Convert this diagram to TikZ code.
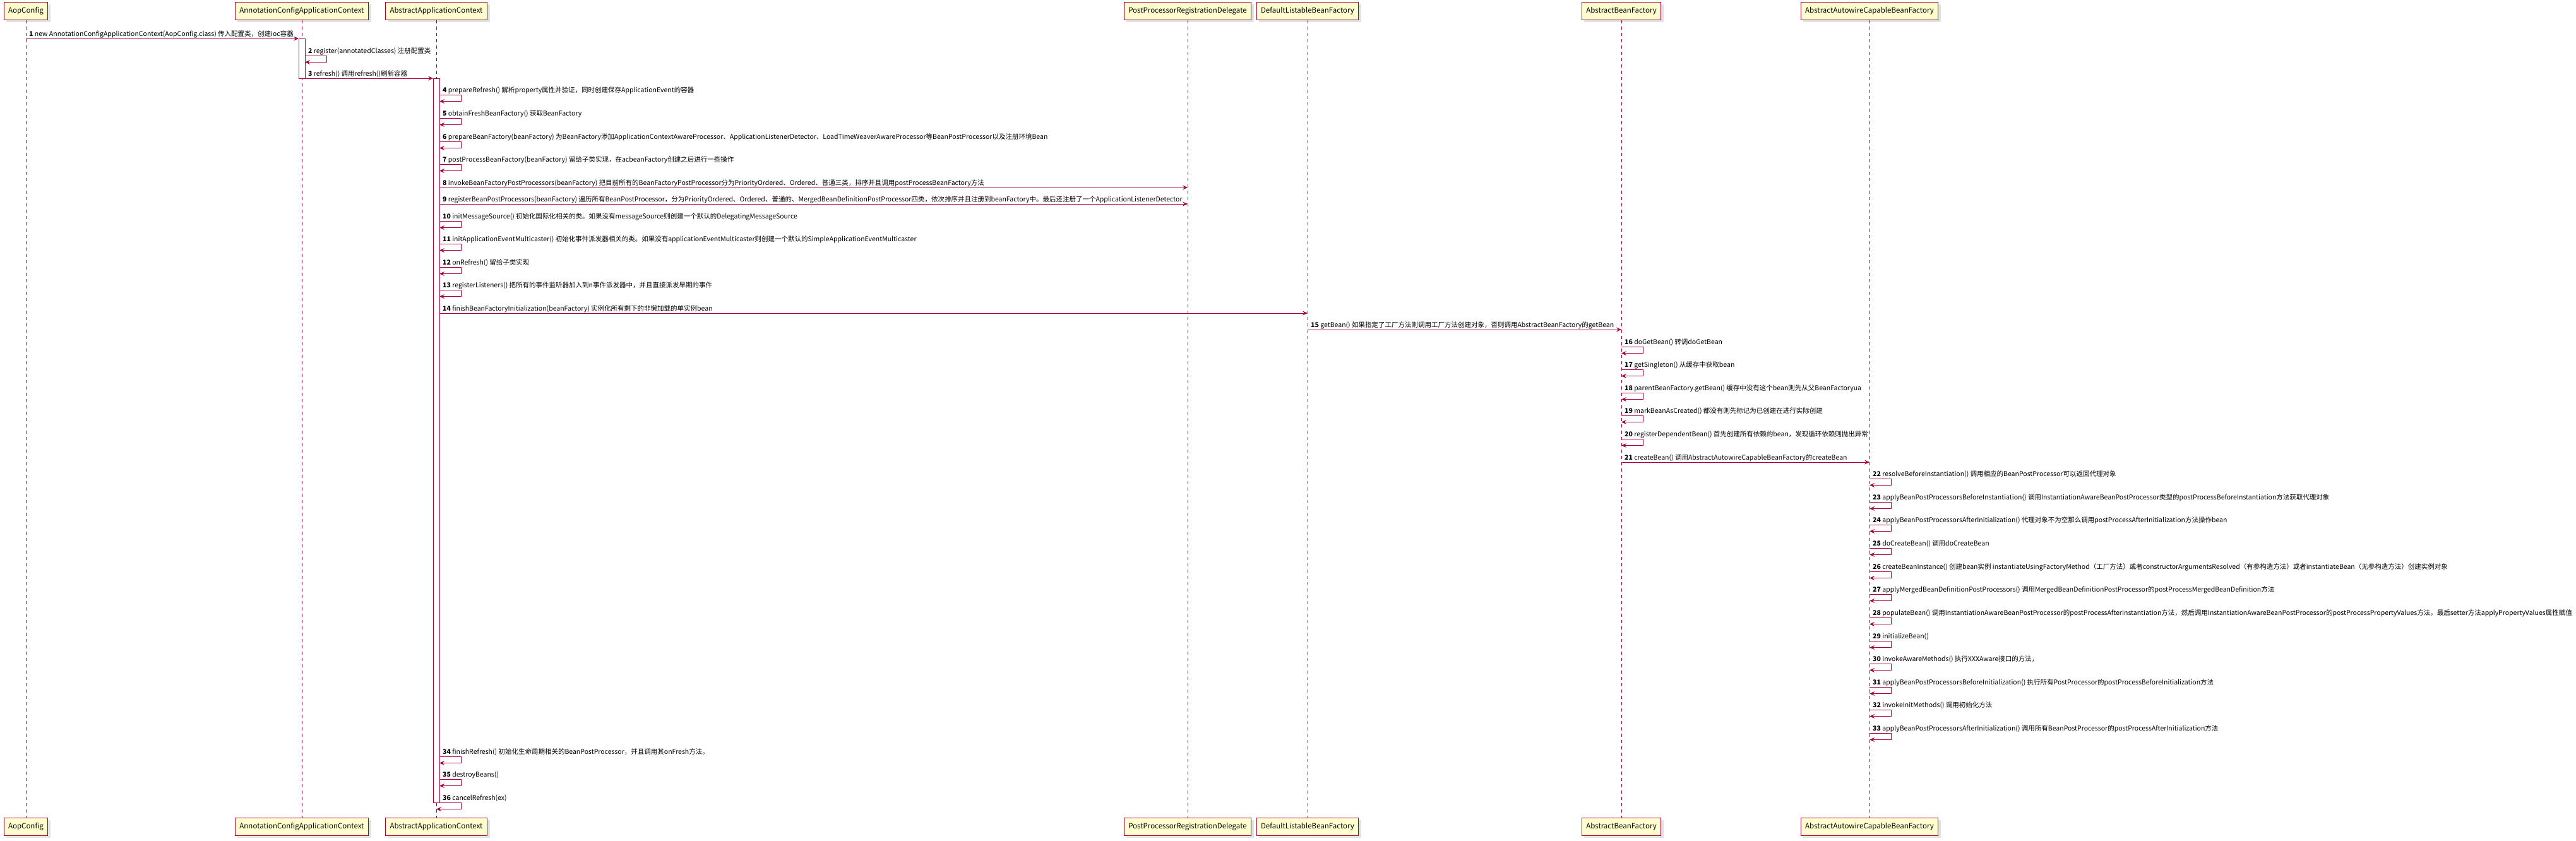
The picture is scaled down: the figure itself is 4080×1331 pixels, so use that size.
\documentclass[tikz,border=0pt]{standalone}
\usepackage{fontspec}
\setmainfont{Noto Sans CJK SC}
\usetikzlibrary{arrows.meta,shadows}
\definecolor{seqline}{HTML}{A80036}
\definecolor{seqbox}{HTML}{FEFECE}
\tikzset{
  part/.style={draw=seqline, line width=1pt, fill=seqbox, minimum height=28pt,
    inner xsep=7pt, inner ysep=0pt, font=\fontsize{11.5}{13}\selectfont,
    drop shadow={shadow xshift=4pt, shadow yshift=-4pt, fill=black!22}},
  life/.style={draw=seqline, dash pattern=on 5pt off 5pt, line width=0.8pt},
  actbar/.style={draw=seqline, fill=white, line width=1pt},
  msgArrow/.style={draw=seqline, line width=1pt, -{Stealth[length=8pt,width=7pt,inset=3pt]}},
  msgText/.style={anchor=base west, inner sep=0pt, font=\fontsize{10.5}{12}\selectfont}
}
% message between two lifelines: #1=number, #2=from x, #3=to x, #4=y, #5=text
\newcommand{\Msg}[5]{%
  \coordinate (m#1a) at (#2,#4);
  \coordinate (m#1b) at (#3,#4);
  \draw[msgArrow] (m#1a) -- (m#1b);
  \node[msgText] (t#1) at (#2+5,#4-3.5) {\textbf{#1} #5};
}
% self message: #1=number, #2=out x, #3=back x, #4=y, #5=text
\newcommand{\SelfMsg}[5]{%
  \coordinate (m#1a) at (#2,#4);
  \coordinate (m#1b) at (#3,#4+10.5);
  \draw[msgArrow] (m#1a) -- ++(34,0) |- (m#1b);
  \node[msgText] (t#1) at (#2+5,#4-3.5) {\textbf{#1} #5};
}

\begin{document}
\begin{tikzpicture}[x=1pt, y=-1pt]
  \fill[white] (0,0) rectangle (4080,1331);
  \useasboundingbox (0,0) rectangle (4080,1331);
  % participants, top and bottom
  \foreach \nm/\x/\lbl in {aop/41/AopConfig, acac/478/AnnotationConfigApplicationContext,
      aac/691/AbstractApplicationContext, pprd/1881/PostProcessorRegistrationDelegate,
      dlbf/2071/DefaultListableBeanFactory, abf/2568/AbstractBeanFactory,
      aacbf/2961/AbstractAutowireCapableBeanFactory}{
    \node[part] (\nm T) at (\x,17) {\lbl};
    \node[part] (\nm B) at (\x,1309) {\lbl};
    \draw[life] (\nm T.south) -- (\nm B.north);
  }
  % activations
  \draw[actbar] (473,61) rectangle (483,124);
  \draw[actbar] (686,124) rectangle (696,1271);

  \Msg{1}{41}{473}{61}{new AnnotationConfigApplicationContext(AopConfig.class) 传入配置类，创建ioc容器}
  \SelfMsg{2}{483}{483}{88}{register(annotatedClasses) 注册配置类}
  \Msg{3}{483}{686}{124}{refresh() 调用refresh()刷新容器}
  \SelfMsg{4}{696}{696}{150}{prepareRefresh() 解析property属性并验证，同时创建保存ApplicationEvent的容器}
  \SelfMsg{5}{696}{696}{187}{obtainFreshBeanFactory() 获取BeanFactory}
  \SelfMsg{6}{696}{696}{224}{prepareBeanFactory(beanFactory) 为BeanFactory添加ApplicationContextAwareProcessor、ApplicationListenerDetector、LoadTimeWeaverAwareProcessor等BeanPostProcessor以及注册环境Bean}
  \SelfMsg{7}{696}{696}{260}{postProcessBeanFactory(beanFactory) 留给子类实现，在acbeanFactory创建之后进行一些操作}
  \Msg{8}{696}{1881}{297}{invokeBeanFactoryPostProcessors(beanFactory) 把目前所有的BeanFactoryPostProcessor分为PriorityOrdered、Ordered、普通三类，排序并且调用postProcessBeanFactory方法}
  \Msg{9}{696}{1881}{323}{registerBeanPostProcessors(beanFactory) 遍历所有BeanPostProcessor，分为PriorityOrdered、Ordered、普通的、MergedBeanDefinitionPostProcessor四类，依次排序并且注册到beanFactory中。最后还注册了一个ApplicationListenerDetector}
  \SelfMsg{10}{696}{696}{350}{initMessageSource() 初始化国际化相关的类。如果没有messageSource则创建一个默认的DelegatingMessageSource}
  \SelfMsg{11}{696}{696}{386}{initApplicationEventMulticaster() 初始化事件派发器相关的类。如果没有applicationEventMulticaster则创建一个默认的SimpleApplicationEventMulticaster}
  \SelfMsg{12}{696}{696}{423}{onRefresh() 留给子类实现}
  \SelfMsg{13}{696}{696}{459}{registerListeners() 把所有的事件监听器加入到n事件派发器中，并且直接派发早期的事件}
  \Msg{14}{696}{2071}{496}{finishBeanFactoryInitialization(beanFactory) 实例化所有剩下的非懒加载的单实例bean}
  \Msg{15}{2071}{2568}{522}{getBean() 如果指定了工厂方法则调用工厂方法创建对象，否则调用AbstractBeanFactory的getBean}
  \SelfMsg{16}{2568}{2568}{549}{doGetBean() 转调doGetBean}
  \SelfMsg{17}{2568}{2568}{585}{getSingleton() 从缓存中获取bean}
  \SelfMsg{18}{2568}{2568}{622}{parentBeanFactory.getBean() 缓存中没有这个bean则先从父BeanFactoryua}
  \SelfMsg{19}{2568}{2568}{658}{markBeanAsCreated() 都没有则先标记为已创建在进行实际创建}
  \SelfMsg{20}{2568}{2568}{695}{registerDependentBean() 首先创建所有依赖的bean，发现循环依赖则抛出异常}
  \Msg{21}{2568}{2961}{732}{createBean() 调用AbstractAutowireCapableBeanFactory的createBean}
  \SelfMsg{22}{2961}{2961}{758}{resolveBeforeInstantiation() 调用相应的BeanPostProcessor可以返回代理对象}
  \SelfMsg{23}{2961}{2961}{795}{applyBeanPostProcessorsBeforeInstantiation() 调用InstantiationAwareBeanPostProcessor类型的postProcessBeforeInstantiation方法获取代理对象}
  \SelfMsg{24}{2961}{2961}{831}{applyBeanPostProcessorsAfterInitialization() 代理对象不为空那么调用postProcessAfterInitialization方法操作bean}
  \SelfMsg{25}{2961}{2961}{868}{doCreateBean() 调用doCreateBean}
  \SelfMsg{26}{2961}{2961}{905}{createBeanInstance() 创建bean实例 instantiateUsingFactoryMethod（工厂方法）或者constructorArgumentsResolved（有参构造方法）或者instantiateBean（无参构造方法）创建实例对象}
  \SelfMsg{27}{2961}{2961}{941}{applyMergedBeanDefinitionPostProcessors() 调用MergedBeanDefinitionPostProcessor的postProcessMergedBeanDefinition方法}
  \SelfMsg{28}{2961}{2961}{978}{populateBean() 调用InstantiationAwareBeanPostProcessor的postProcessAfterInstantiation方法，然后调用InstantiationAwareBeanPostProcessor的postProcessPropertyValues方法，最后setter方法applyPropertyValues属性赋值}
  \SelfMsg{29}{2961}{2961}{1015}{initializeBean()}
  \SelfMsg{30}{2961}{2961}{1051}{invokeAwareMethods() 执行XXXAware接口的方法，}
  \SelfMsg{31}{2961}{2961}{1088}{applyBeanPostProcessorsBeforeInitialization() 执行所有PostProcessor的postProcessBeforeInitialization方法}
  \SelfMsg{32}{2961}{2961}{1124}{invokeInitMethods() 调用初始化方法}
  \SelfMsg{33}{2961}{2961}{1161}{applyBeanPostProcessorsAfterInitialization() 调用所有BeanPostProcessor的postProcessAfterInitialization方法}
  \SelfMsg{34}{696}{696}{1198}{finishRefresh() 初始化生命周期相关的BeanPostProcessor，并且调用其onFresh方法。}
  \SelfMsg{35}{696}{696}{1234}{destroyBeans()}
  \SelfMsg{36}{696}{691}{1271}{cancelRefresh(ex)}
\end{tikzpicture}
\end{document}
